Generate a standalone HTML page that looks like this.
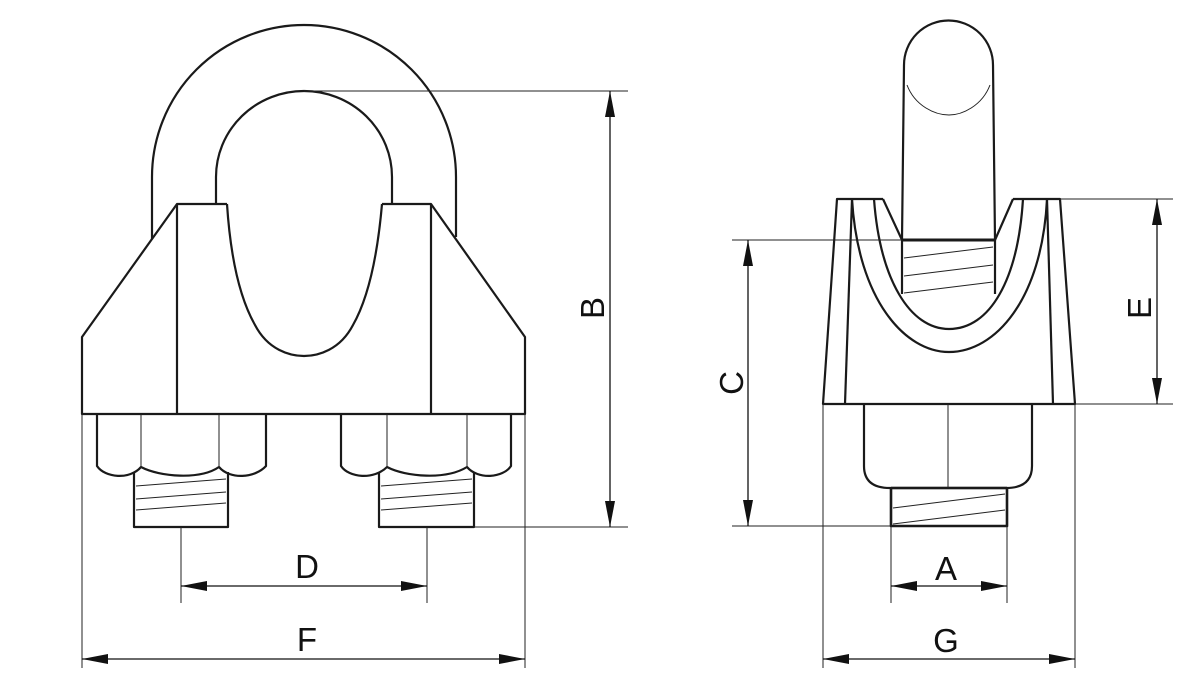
<!DOCTYPE html>
<html><head><meta charset="utf-8"><style>html,body{margin:0;padding:0;background:#fff}svg{display:block}</style></head>
<body>
<svg width="1201" height="691" viewBox="0 0 1201 691" xmlns="http://www.w3.org/2000/svg" font-family="Liberation Sans, Arial, sans-serif">
<defs>
<marker id="ar" viewBox="0 0 26 10" refX="26" refY="5" markerWidth="26" markerHeight="10" markerUnits="userSpaceOnUse" orient="auto-start-reverse">
<path d="M0,0 L26,5 L0,10 Z" fill="#111"/></marker>
</defs>
<g fill="none" stroke="#1a1a1a" stroke-width="2.2" stroke-linejoin="round">
<!-- LEFT VIEW -->
<path d="M152,239 L152,177 A152,152 0 0 1 456,177 L456,237" fill="none"/>
<path d="M216,204 L216,177 A88,86 0 0 1 392,177 L392,204"/>
<path d="M227,204 L177,204 L82,337 L82,414 L525,414 L525,337 L431,204 L382,204" fill="#fff"/>
<line x1="177" y1="204" x2="177" y2="414"/>
<line x1="431" y1="204" x2="431" y2="414"/>
<path d="M227,204 C230,250 238,295 255,325 C268,350 290,356 304,356 C318,356 340,350 353,325 C370,295 378,250 382,204"/>
<!-- left nut -->
<path d="M97,414 L97,466 C105,478 130,480 141,467 C160,477 200,480 219,467 C230,480 255,478 266,466 L266,414"/>
<path d="M134,472 L134,527 L228,527 L228,472"/>
<!-- right nut -->
<path d="M341,414 L341,466 C349,478 374,480 387,467 C406,477 446,480 467,467 C478,480 503,478 511,466 L511,414"/>
<path d="M379,472 L379,527 L474,527 L474,472"/>
<!-- RIGHT VIEW -->
<path d="M883,199 L837,199 L823,404 L1075,404 L1060,199 L1013,199" fill="#fff"/>
<line x1="852" y1="199" x2="845" y2="404"/>
<line x1="1047" y1="199" x2="1053" y2="404"/>
<path d="M852,199 C858,300 905,352 949,352 C995,352 1042,300 1047,199"/>
<path d="M874,199 C880,280 910,329 949,329 C990,329 1018,280 1023,199"/>
<path d="M883,199 L902,240 M1013,199 L995,240"/>
<path d="M902,240 L902,294 M995,240 L995,294"/>
<path d="M902,240 L904,65 A44.5,44.5 0 0 1 993,65 L995,240"/>
<line x1="902" y1="240" x2="995" y2="240" stroke-width="3"/>
<path d="M864,404 L864,466 C864,480 872,488 890,488 L1006,488 C1024,488 1032,480 1032,466 L1032,404"/>
<path d="M891,488 L891,526 L1007,526 L1007,488" stroke-width="2.6"/>
<line x1="891" y1="488" x2="1007" y2="488" stroke-width="2.6"/>
</g>
<g stroke="#222" stroke-width="1" fill="none">
<path d="M136,486 L226,479 M136,499 L226,492 M136,510 L226,503"/>
<path d="M381,486 L472,479 M381,499 L472,492 M381,510 L472,503"/>
<path d="M904,258 L993,247 M904,276 L993,265 M904,293 L993,282"/>
<path d="M893,508 L1005,494 M893,524 L1005,510"/>
<path d="M907,85 C915,106 935,115 949,115 C962,115 982,106 990,85"/>
<line x1="948" y1="404" x2="948" y2="488"/>
<line x1="141" y1="414" x2="141" y2="467"/><line x1="219" y1="414" x2="219" y2="467"/>
<line x1="387" y1="414" x2="387" y2="467"/><line x1="467" y1="414" x2="467" y2="467"/>
<line x1="82" y1="414" x2="82" y2="668"/><line x1="525" y1="414" x2="525" y2="668"/>
<line x1="181" y1="527" x2="181" y2="603"/><line x1="427" y1="527" x2="427" y2="603"/>
<line x1="304" y1="91" x2="628" y2="91"/><line x1="474" y1="527" x2="628" y2="527"/>
<line x1="732" y1="240" x2="902" y2="240"/><line x1="732" y1="526" x2="891" y2="526"/>
<line x1="1060" y1="199" x2="1173" y2="199"/><line x1="1075" y1="404" x2="1173" y2="404"/>
<line x1="891" y1="526" x2="891" y2="603"/><line x1="1007" y1="526" x2="1007" y2="603"/>
<line x1="823" y1="404" x2="823" y2="668"/><line x1="1075" y1="404" x2="1075" y2="668"/>
</g>
<g stroke="#111" stroke-width="1.3">
<line x1="82" y1="659" x2="525" y2="659" marker-start="url(#ar)" marker-end="url(#ar)"/>
<line x1="181" y1="586" x2="427" y2="586" marker-start="url(#ar)" marker-end="url(#ar)"/>
<line x1="610" y1="91" x2="610" y2="527" marker-start="url(#ar)" marker-end="url(#ar)"/>
<line x1="748" y1="240" x2="748" y2="526" marker-start="url(#ar)" marker-end="url(#ar)"/>
<line x1="1157" y1="199" x2="1157" y2="404" marker-start="url(#ar)" marker-end="url(#ar)"/>
<line x1="891" y1="586" x2="1007" y2="586" marker-start="url(#ar)" marker-end="url(#ar)"/>
<line x1="823" y1="659" x2="1075" y2="659" marker-start="url(#ar)" marker-end="url(#ar)"/>
</g>
<g fill="#111" font-size="33" text-anchor="middle">
<text x="307" y="578">D</text>
<text x="307" y="651">F</text>
<text x="946" y="580">A</text>
<text x="946" y="652">G</text>
<text transform="translate(604,308) rotate(-90)">B</text>
<text transform="translate(743,383) rotate(-90)">C</text>
<text transform="translate(1151,308) rotate(-90)">E</text>
</g>
</svg>
</body></html>
